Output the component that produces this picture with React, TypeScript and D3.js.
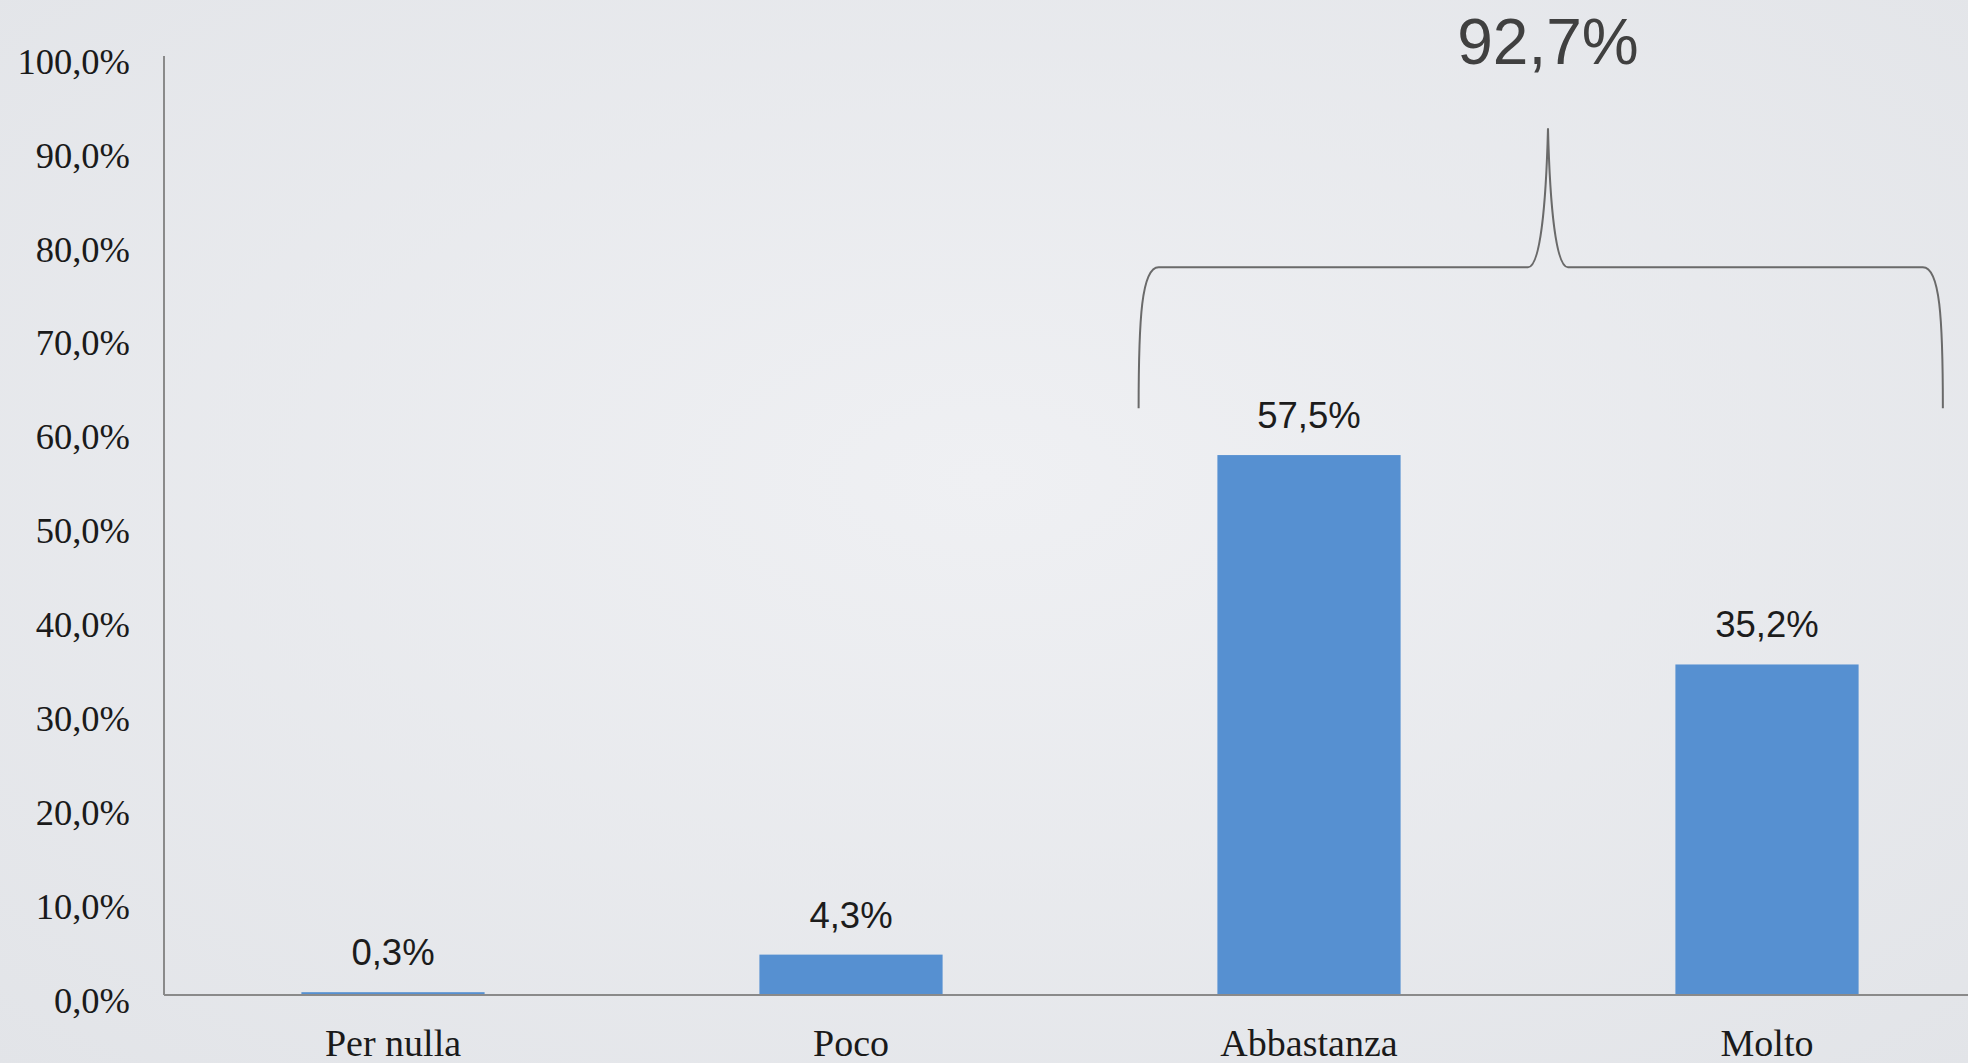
import React from "react";
import * as d3 from "d3";

const categories = ["Per nulla", "Poco", "Abbastanza", "Molto"];
const values = [0.3, 4.3, 57.5, 35.2];
const valueLabels = ["0,3%", "4,3%", "57,5%", "35,2%"];
const yTicks = [0, 10, 20, 30, 40, 50, 60, 70, 80, 90, 100];
const braceLabel = "92,7%";
const braceGroup = ["Abbastanza", "Molto"];

const W = 1968;
const H = 1063;

export default function App() {
  const x = d3
    .scaleBand<string>()
    .domain(categories)
    .range([164, 1996])
    .paddingInner(0.6)
    .paddingOuter(0.3);
  const y = d3.scaleLinear().domain([0, 100]).range([995, 56]);
  const fmt = (v: number) => v.toFixed(1).replace(".", ",") + "%";

  const gA = braceGroup[0];
  const gB = braceGroup[1];
  const xl = (x(gA) as number) - x.bandwidth() * 0.43;
  const xr = (x(gB) as number) + x.bandwidth() * 1.46;
  const xm = xl + (xr - xl) * 0.509;
  const yb = y(62.5);
  const yh = y(77.5);
  const yt = y(92.3);
  const c = 20;
  const bracePath = [
    `M ${xl} ${yb}`,
    `C ${xl} ${yb - 90}, ${xl + 3} ${yh}, ${xl + c} ${yh}`,
    `L ${xm - c} ${yh}`,
    `C ${xm - 8} ${yh}, ${xm - 2} ${yh - 60}, ${xm} ${yt}`,
    `C ${xm + 2} ${yh - 60}, ${xm + 8} ${yh}, ${xm + c} ${yh}`,
    `L ${xr - c} ${yh}`,
    `C ${xr - 3} ${yh}, ${xr} ${yb - 90}, ${xr} ${yb}`,
  ].join(" ");

  return (
    <svg
      width={W}
      height={H}
      style={{ position: "absolute", left: 0, top: 0, display: "block" }}
    >
      <defs>
        <radialGradient id="bg" cx="50%" cy="45%" r="75%">
          <stop offset="0%" stopColor="#eff0f3" />
          <stop offset="100%" stopColor="#e2e4e8" />
        </radialGradient>
      </defs>
      <rect x={0} y={0} width={W} height={H} fill="url(#bg)" />

      {yTicks.map((t) => (
        <text
          key={t}
          x={130}
          y={y(t) + 5}
          dy="0.35em"
          textAnchor="end"
          fontFamily="'Liberation Serif', 'Times New Roman', serif"
          fontSize={36.5}
          fill="#1a1a1a"
        >
          {fmt(t)}
        </text>
      ))}

      {categories.map((cat, i) => (
        <rect
          key={cat}
          x={x(cat)}
          y={y(values[i])}
          width={x.bandwidth()}
          height={y(0) - y(values[i])}
          fill="#5690d1"
        />
      ))}

      <line x1={164} x2={164} y1={56} y2={995} stroke="#8a8a8a" strokeWidth={2} />
      <line x1={164} x2={W} y1={995} y2={995} stroke="#8a8a8a" strokeWidth={2} />

      {categories.map((cat, i) => (
        <text
          key={cat}
          x={(x(cat) as number) + x.bandwidth() / 2}
          y={y(values[i]) - 27}
          textAnchor="middle"
          fontFamily="'Liberation Sans', Arial, sans-serif"
          fontSize={36.5}
          fill="#1c1c1c"
        >
          {valueLabels[i]}
        </text>
      ))}

      {categories.map((cat) => (
        <text
          key={cat}
          x={(x(cat) as number) + x.bandwidth() / 2}
          y={1056}
          textAnchor="middle"
          fontFamily="'Liberation Serif', 'Times New Roman', serif"
          fontSize={38}
          fill="#1a1a1a"
        >
          {cat}
        </text>
      ))}

      <path d={bracePath} fill="none" stroke="#6a6a6a" strokeWidth={2} />
      <text
        x={xm}
        y={64}
        textAnchor="middle"
        fontFamily="'Liberation Sans', Arial, sans-serif"
        fontSize={64}
        fill="#404040"
      >
        {braceLabel}
      </text>
    </svg>
  );
}
